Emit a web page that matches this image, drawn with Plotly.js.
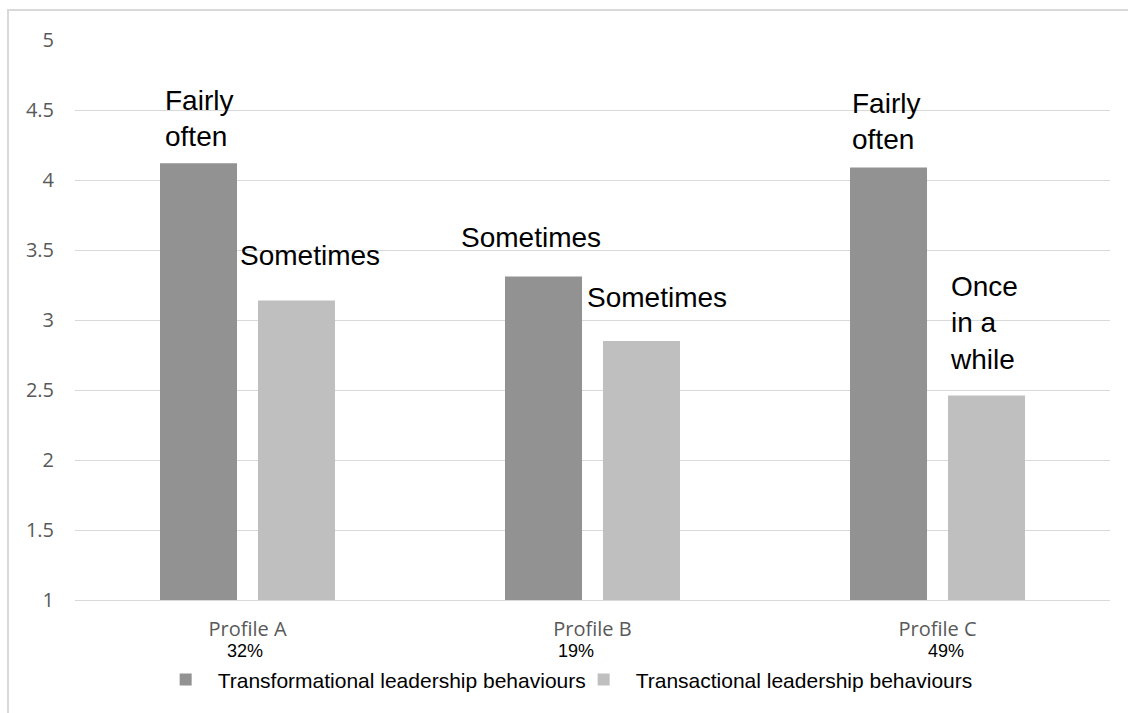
<!DOCTYPE html>
<html>
<head>
<meta charset="utf-8">
<script src="https://cdn.plot.ly/plotly-3.0.1.min.js"></script>
<style>
  html, body { margin: 0; padding: 0; background: #ffffff; }
  #wrap { position: relative; width: 1128px; height: 713px; }
  #chart { width: 1128px; height: 713px; }
  #frame {
    position: absolute; left: 7px; top: 9px; right: 0; bottom: 0;
    border-left: 2px solid #d9d9d9; border-top: 2px solid #d9d9d9;
    pointer-events: none;
  }
</style>
</head>
<body>
<div id="wrap">
  <div id="chart"></div>
  <div id="frame"></div>
</div>
<script>
// Profiles and their share of respondents
const profiles = ['Profile A', 'Profile B', 'Profile C'];
const shares = ['32%', '19%', '49%'];

// Mean scores per leadership style
const transformational = [4.12, 3.31, 4.09];
const transactional = [3.14, 2.85, 2.46];

// Verbal frequency labels written above each bar
const transformationalLabels = ['Fairly<br>often', 'Sometimes', 'Fairly<br>often'];
const transactionalLabels = ['Sometimes', 'Sometimes', 'Once<br>in a<br>while'];

const seriesNames = ['Transformational leadership behaviours', 'Transactional leadership behaviours'];

const labelFont = { family: 'Liberation Sans, Arial, sans-serif', size: 28, color: '#000000' };

// Placement of the frequency labels relative to the top of each bar (pixels)
const darkOffsets = [[-85, 45], [-134, 39], [-88, 46]];
const lightOffsets = [[-10, 45], [-8, 44], [10, 73]];
const shareShift = [-3, -17, 8];

const traces = [
  {
    type: 'bar', name: seriesNames[0], x: profiles, y: transformational,
    marker: { color: '#929292' }, hoverinfo: 'skip'
  },
  {
    type: 'bar', name: seriesNames[1], x: profiles, y: transactional,
    marker: { color: '#bfbfbf' }, hoverinfo: 'skip'
  }
];

const annotations = [];
profiles.forEach((p, i) => {
  annotations.push({
    x: p, y: transformational[i], xref: 'x', yref: 'y',
    text: transformationalLabels[i], showarrow: false,
    xanchor: 'left', yanchor: 'middle', align: 'left',
    xshift: darkOffsets[i][0], yshift: darkOffsets[i][1], font: labelFont
  });
  annotations.push({
    x: p, y: transactional[i], xref: 'x', yref: 'y',
    text: transactionalLabels[i], showarrow: false,
    xanchor: 'left', yanchor: 'middle', align: 'left',
    xshift: lightOffsets[i][0], yshift: lightOffsets[i][1], font: labelFont
  });
  annotations.push({
    x: p, y: -0.091, xref: 'x', yref: 'paper',
    text: shares[i], showarrow: false,
    xanchor: 'center', yanchor: 'middle', xshift: shareShift[i],
    font: { family: 'Liberation Sans, Arial, sans-serif', size: 18, color: '#000000' }
  });
});

const layout = {
  width: 1128, height: 713,
  margin: { l: 75, r: 18, t: 40, b: 113, autoexpand: false },
  paper_bgcolor: '#ffffff', plot_bgcolor: '#ffffff',
  barmode: 'group', bargap: 0.432, bargroupgap: 0.214,
  showlegend: true,
  legend: {
    orientation: 'h', x: 0.076, y: -0.106, xanchor: 'left', yanchor: 'top',
    font: { family: 'Liberation Sans, Arial, sans-serif', size: 21, color: '#000000' },
    itemwidth: 54, entrywidth: 349, entrywidthmode: 'pixels',
    bgcolor: 'rgba(0,0,0,0)', traceorder: 'normal'
  },
  xaxis: {
    type: 'category', showgrid: false, zeroline: false,
    showline: true, linecolor: '#d9d9d9', linewidth: 1,
    ticks: '', ticklabelstandoff: 11,
    tickfont: { family: 'Open Sans, sans-serif', size: 20, color: '#595959' }
  },
  yaxis: {
    range: [1, 5], dtick: 0.5, tick0: 1,
    showgrid: true, gridcolor: '#d9d9d9', gridwidth: 1,
    zeroline: false, showline: false, ticks: '', ticklabelstandoff: 20,
    tickfont: { family: 'Open Sans, sans-serif', size: 20, color: '#595959' }
  },
  annotations: annotations
};

Plotly.newPlot('chart', traces, layout, { displayModeBar: false, staticPlot: true });
</script>
</body>
</html>
